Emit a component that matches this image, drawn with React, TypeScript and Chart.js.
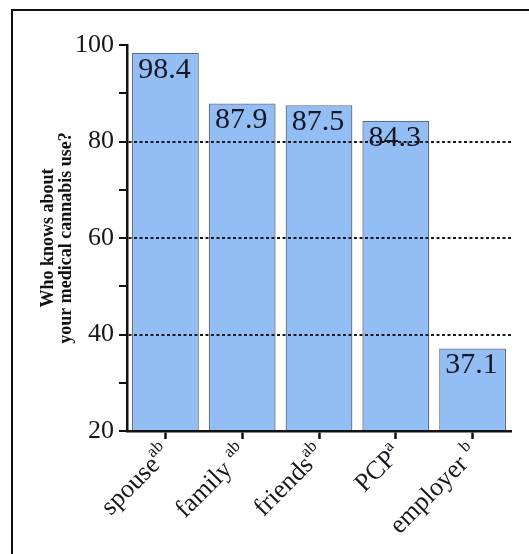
import React, { useEffect, useRef } from "react";
import { Chart, registerables } from "chart.js";

Chart.register(...registerables);

const categories = ["spouse", "family ", "friends", "PCP", "employer "];
const superscripts = ["ab", "ab", "ab", "a", "b"];
const values = [98.4, 87.9, 87.5, 84.3, 37.1];
const yMin = 20;
const yMax = 100;
const yStep = 10;
const labelledTicks = [20, 40, 60, 80, 100];
const dashedTicks = [40, 60, 80];
const yTitle = ["Who knows about", "your medical cannabis use?"];

const SERIF = "'Liberation Serif', 'Times New Roman', serif";

const valueLabelPlugin = {
  id: "valueLabels",
  afterDatasetsDraw(chart: any) {
    const ctx = chart.ctx;
    const meta = chart.getDatasetMeta(0);
    ctx.save();
    ctx.font = `30px ${SERIF}`;
    ctx.fillStyle = "#16161f";
    ctx.textAlign = "center";
    ctx.textBaseline = "alphabetic";
    meta.data.forEach((bar: any, i: number) => {
      ctx.fillText(values[i].toFixed(1), bar.x - 1, bar.y + 25);
    });
    ctx.restore();
  },
};

const xLabelPlugin = {
  id: "xLabels",
  afterDraw(chart: any) {
    const ctx = chart.ctx;
    const xs = chart.scales.x;
    const baseY = chart.chartArea.bottom + 19;
    ctx.save();
    ctx.fillStyle = "#16161f";
    ctx.textBaseline = "middle";
    ctx.textAlign = "right";
    categories.forEach((cat, i) => {
      const x = xs.getPixelForValue(i) + 2;
      ctx.save();
      ctx.translate(x, baseY);
      ctx.rotate(-Math.PI / 4);
      ctx.font = `17px ${SERIF}`;
      const supW = ctx.measureText(superscripts[i]).width;
      ctx.fillText(superscripts[i], 0, -9);
      ctx.font = `26px ${SERIF}`;
      ctx.fillText(cat, -supW, 0);
      ctx.restore();
    });
    ctx.restore();
  },
};

export default function App() {
  const canvasRef = useRef<HTMLCanvasElement | null>(null);

  useEffect(() => {
    if (!canvasRef.current) return;
    const chart = new Chart(canvasRef.current, {
      type: "bar",
      data: {
        labels: categories,
        datasets: [
          {
            data: values,
            backgroundColor: "#93bdf5",
            borderColor: "#5f6d80",
            borderWidth: 1.3,
            categoryPercentage: 1,
            barPercentage: 0.87,
          },
        ],
      },
      options: {
        animation: false,
        responsive: true,
        maintainAspectRatio: false,
        layout: { padding: { left: 0, right: 18, top: 45, bottom: 0 } },
        plugins: {
          legend: { display: false },
          tooltip: { enabled: false },
        },
        scales: {
          x: {
            offset: true,
            grid: {
              offset: false,
              drawOnChartArea: false,
              drawTicks: true,
              tickLength: 8,
              tickColor: "#111",
              tickWidth: 2.5,
            },
            border: { display: true, color: "#111", width: 2.5, z: 2 },
            ticks: { display: false },
            afterFit: (s: any) => {
              s.height = 123;
            },
          },
          y: {
            min: yMin,
            max: yMax,
            afterFit: (s: any) => {
              s.width = 127;
            },
            title: {
              display: true,
              text: yTitle,
              color: "#111",
              font: { family: SERIF, size: 18, weight: "bold", lineHeight: 1 },
              padding: { top: 39, bottom: 0 },
            },
            ticks: {
              stepSize: yStep,
              autoSkip: false,
              color: "#16161f",
              padding: 5,
              font: { family: SERIF, size: 26 },
              callback: (v: any) => (labelledTicks.includes(Number(v)) ? String(v) : ""),
            },
            grid: {
              z: 1,
              drawTicks: true,
              tickLength: 8,
              tickColor: "#111",
              tickWidth: 2,
              lineWidth: 2,
              color: (c: any) =>
                c.tick && dashedTicks.includes(c.tick.value) ? "#1a1a1a" : "rgba(0,0,0,0)",
            },
            border: { display: true, color: "#111", width: 2.5, dash: [3, 2.5], z: 2 },
          },
        },
      },
      plugins: [valueLabelPlugin, xLabelPlugin],
    });
    return () => chart.destroy();
  }, []);

  return (
    <>
      <div
        style={{
          position: "fixed",
          left: 11,
          top: 9,
          width: 518,
          height: 545,
          borderTop: "2px solid #111",
          borderLeft: "2px solid #111",
          boxSizing: "border-box",
        }}
      />
      <div style={{ position: "fixed", left: 0, top: 0, width: 529, height: 554 }}>
        <canvas ref={canvasRef} />
      </div>
    </>
  );
}
